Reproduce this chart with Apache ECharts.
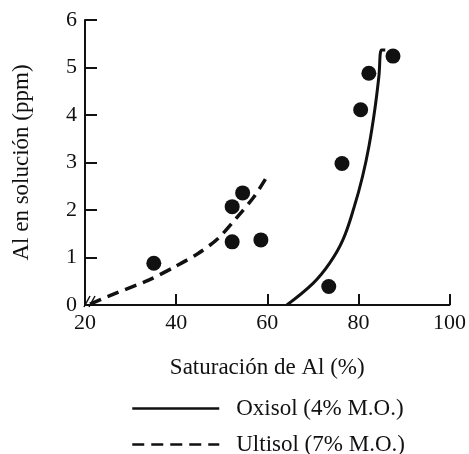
<!DOCTYPE html>
<html>
<head>
<meta charset="utf-8">
<script src="https://cdn.jsdelivr.net/npm/echarts@6/dist/echarts.min.js"></script>
<style>html,body{margin:0;padding:0;background:#fff}#c{width:469px;height:454px}</style>
</head>
<body>
<div id="c"></div>
<script>
// Measured points (all drawn as black dots)
var ultisolPtsX = [35.1, 52.3, 52.3, 54.6, 58.6];
var ultisolPtsY = [0.88, 2.07, 1.33, 2.36, 1.37];
var oxisolPtsX = [73.5, 76.4, 80.5, 82.3, 87.6];
var oxisolPtsY = [0.39, 2.98, 4.11, 4.88, 5.24];

// Fitted curves (traced)
var oxisolCurveX = [64.3, 70.1, 73.7, 76.6, 79.1, 80.9, 82.3, 83.6, 84.5, 85.1, 85.9];
var oxisolCurveY = [0.0, 0.46, 0.88, 1.37, 2.07, 2.70, 3.33, 4.11, 4.81, 5.37, 5.37];
var ultisolCurveX = [21.1, 26.8, 34.1, 39.8, 44.9, 49.2, 53.5, 57.1, 59.6];
var ultisolCurveY = [0.02, 0.25, 0.53, 0.81, 1.09, 1.40, 1.86, 2.28, 2.65];

var xTicks = [20, 40, 60, 80, 100];
var yTicks = [0, 1, 2, 3, 4, 5, 6];

var seriesNames = ['Oxisol (4% M.O.)', 'Ultisol (7% M.O.)'];
var xTitle = 'Saturación de Al (%)';
var yTitle = 'Al en solución (ppm)';

function zip(a, b) { return a.map(function (v, i) { return [v, b[i]]; }); }

var FONT = '"Liberation Serif", "DejaVu Serif", serif';
var legendBase = {
  orient: 'vertical', left: 131, padding: 0,
  itemWidth: 87, itemHeight: 14,
  itemStyle: { opacity: 0 },
  lineStyle: { width: 2.5 },
  textStyle: { fontFamily: FONT, fontSize: 23, color: '#111', padding: [0, 0, 0, 12] },
  inactiveColor: '#111', selectedMode: false
};
var chart = echarts.init(document.getElementById('c'));
chart.setOption({
  animation: false,
  backgroundColor: '#fff',
  textStyle: { fontFamily: FONT, color: '#111' },
  grid: { left: 85, right: 14, top: 20, bottom: 149, containLabel: false },
  xAxis: {
    type: 'value', min: xTicks[0], max: xTicks[xTicks.length - 1], interval: 20,
    name: xTitle, nameLocation: 'middle', nameGap: 51,
    nameTextStyle: { fontFamily: FONT, fontSize: 23, color: '#111' },
    axisLine: { lineStyle: { color: '#111', width: 2 } },
    axisTick: { inside: true, length: 11, lineStyle: { color: '#111', width: 2 } },
    axisLabel: { fontFamily: FONT, fontSize: 22, color: '#111', margin: 7 },
    splitLine: { show: false }
  },
  yAxis: {
    type: 'value', min: yTicks[0], max: yTicks[yTicks.length - 1], interval: 1,
    name: yTitle, nameLocation: 'middle', nameGap: 52, nameRotate: 90,
    nameTextStyle: { fontFamily: FONT, fontSize: 23, color: '#111' },
    axisLine: { lineStyle: { color: '#111', width: 2 } },
    axisTick: { inside: true, length: 12, lineStyle: { color: '#111', width: 2 } },
    axisLabel: { fontFamily: FONT, fontSize: 22, color: '#111', margin: 8 },
    splitLine: { show: false }
  },
  legend: [
    Object.assign({}, legendBase, { data: [seriesNames[0]], top: 397 }),
    Object.assign({}, legendBase, { data: [seriesNames[1]], top: 433 })
  ],
  series: [
    {
      name: seriesNames[0], type: 'line', smooth: 0.4, symbol: 'none',
      data: zip(oxisolCurveX, oxisolCurveY),
      lineStyle: { color: '#111', width: 3 },
      itemStyle: { color: '#111' }
    },
    {
      name: seriesNames[1], type: 'line', smooth: 0.3, symbol: 'none',
      data: zip(ultisolCurveX, ultisolCurveY),
      lineStyle: { color: '#111', width: 3.5, type: [12, 7] },
      itemStyle: { color: '#111' }
    },
    {
      name: 'pts', type: 'scatter', symbol: 'circle', symbolSize: 15,
      data: zip(ultisolPtsX, ultisolPtsY).concat(zip(oxisolPtsX, oxisolPtsY)),
      itemStyle: { color: '#111', opacity: 1 }
    }
  ]
});

// axis break mark at origin
var o = chart.convertToPixel({ gridIndex: 0 }, [xTicks[0], yTicks[0]]);
chart.setOption({
  graphic: [
    { type: 'line', shape: { x1: o[0] - 1, y1: o[1] + 2, x2: o[0] + 5, y2: o[1] - 9 }, style: { stroke: '#111', lineWidth: 1.5 } },
    { type: 'line', shape: { x1: o[0] + 4, y1: o[1] + 2, x2: o[0] + 10, y2: o[1] - 9 }, style: { stroke: '#111', lineWidth: 1.5 } }
  ]
});
</script>
</body>
</html>
